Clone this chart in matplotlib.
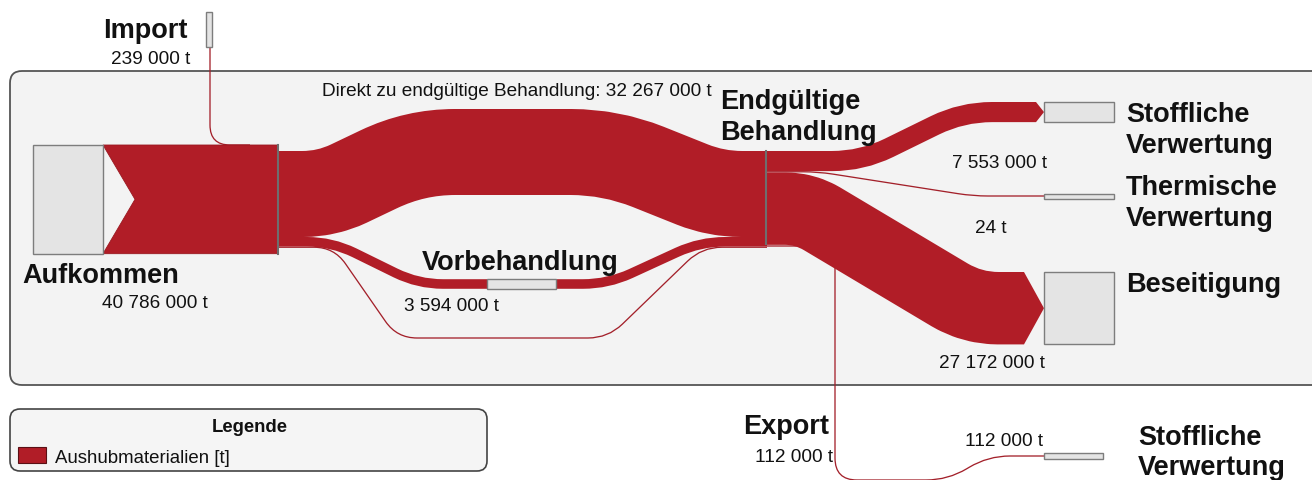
import numpy as np
import matplotlib
matplotlib.use("Agg")
import matplotlib.pyplot as plt
from matplotlib.path import Path
from matplotlib.patches import PathPatch, Polygon, Rectangle, FancyBboxPatch

plt.rcParams['font.family'] = ['Liberation Sans', 'DejaVu Sans']

# Mengen in Tonnen
aufkommen_t = 40786000
import_t = 239000
direkt_t = 32267000
vorbehandlung_t = 3594000
umweg_t = 300000          # schmaler Strang unter der Vorbehandlung (ohne Beschriftung)
ziel_namen = ["Stoffliche\nVerwertung", "Thermische\nVerwertung", "Beseitigung"]
ziel_t = [7553000, 24, 27172000]
export_t = 112000
export_ziel = "Stoffliche\nVerwertung"

W, H, DPI = 1312, 481, 100
K = 2.665e-6      # Pixel pro Tonne
MIN_W = 1.3       # Mindestbreite sehr kleiner Ströme
ROT = '#b11d27'
ROT_D = '#a3202a'
GRAU = '#e4e4e4'
RAND = '#7d7d7d'
TXT = '#111111'
FS_B = 19.5
FS_V = 13.7

fig = plt.figure(figsize=(W / DPI, H / DPI), dpi=DPI)
ax = fig.add_axes([0, 0, 1, 1])
ax.set_xlim(0, W)
ax.set_ylim(H, 0)
ax.axis('off')


def breite(v):
    return max(v * K, MIN_W)


def rund(pts, r):
    verts, codes = [pts[0]], [Path.MOVETO]
    for i in range(1, len(pts) - 1):
        p0, p1, p2 = (np.array(p, float) for p in pts[i - 1:i + 2])
        d1, d2 = p1 - p0, p2 - p1
        l1, l2 = np.hypot(*d1), np.hypot(*d2)
        rr = min(r, l1 / 2, l2 / 2)
        verts += [p1 - d1 / l1 * rr, p1, p1 + d2 / l2 * rr]
        codes += [Path.LINETO, Path.CURVE3, Path.CURVE3]
    verts.append(pts[-1])
    codes.append(Path.LINETO)
    return Path(verts, codes)


def strom(pts, value, r=30, color=ROT, z=2):
    w = breite(value)
    ax.add_patch(PathPatch(rund(pts, r), fill=False, edgecolor=color,
                           lw=w * 72 / DPI, capstyle='butt', joinstyle='round', zorder=z))
    return w


def spitze(x, c, w, tip):
    ax.add_patch(Polygon([(x, c - w / 2), (tip, c), (x, c + w / 2)], closed=True,
                         facecolor=ROT, edgecolor='none', zorder=2))


def knoten(x, y, w, h):
    ax.add_patch(Rectangle((x, y), w, h, facecolor=GRAU, edgecolor=RAND, lw=1.0, zorder=4))


def fmt(v):
    return f"{v:,} t".replace(",", " ")


def txt(x, y, s, bold=False, ha='left', size=None):
    ax.text(x, y, s, ha=ha, va='baseline', color=TXT,
            fontsize=size or (FS_B if bold else FS_V),
            fontweight='bold' if bold else 'normal', zorder=6)


# Rahmen
ax.add_patch(FancyBboxPatch((10, 72), 1340, 314, boxstyle="round,pad=0,rounding_size=12",
                            facecolor='#f3f3f3', edgecolor='#555555', lw=1.3, zorder=0))

# Import
knoten(206, 13, 6, 35)
strom([(210, 48), (210, 146), (250, 146)], import_t, r=40, color=ROT_D, z=1)

# Aufkommen
h_auf = aufkommen_t * K
knoten(33, 146, 70, h_auf)
ax.add_patch(Polygon([(103, 146), (278, 146), (278, 146 + h_auf), (103, 146 + h_auf),
                      (135, 146 + h_auf / 2)], closed=True, facecolor=ROT, edgecolor='#9a1820',
                     lw=0.6, zorder=3))

# Abflüsse Aufkommen -> Endgültige Behandlung
y0 = 152
w_dir = breite(direkt_t)
w_vb = breite(vorbehandlung_t)
w_um = breite(umweg_t)
c_dir = y0 + w_dir / 2
c_vb = y0 + w_dir + w_vb / 2
c_um = y0 + w_dir + w_vb + w_um / 2

strom([(279, c_dir), (327, c_dir), (415, 110 + w_dir / 2), (611, 110 + w_dir / 2),
       (716, c_dir), (767, c_dir)], direkt_t, r=40)
strom([(279, c_vb), (332, c_vb), (418, 285), (608, 285), (700, c_vb), (767, c_vb)],
      vorbehandlung_t, r=25)
strom([(279, c_um), (334, c_um), (397, 339), (608, 339), (702, c_um), (767, c_um)],
      umweg_t, r=20, color=ROT_D, z=1)
knoten(487, 285 - w_vb / 2, 69, w_vb)

# Abflüsse Endgültige Behandlung
y1 = 152
w_st = breite(ziel_t[0])
w_th = breite(ziel_t[1])
w_bs = breite(ziel_t[2])
c_st = y1 + w_st / 2
c_th = y1 + w_st + w_th / 2
c_bs = y1 + w_st + w_th + w_bs / 2

z_st = 103 + w_st / 2
strom([(766, c_st), (862, c_st), (962, z_st), (1036, z_st)], ziel_t[0], r=30)
spitze(1036, z_st, w_st, 1044)
knoten(1044, z_st - w_st / 2, 70, w_st)

strom([(766, c_th), (818, c_th), (973, 197), (1044, 197)], ziel_t[1], r=15, color=ROT_D)
knoten(1044, 197 - 2.5, 70, 5)

z_bs = 273 + w_bs / 2
strom([(766, c_bs), (805, c_bs), (972, z_bs), (1024, z_bs)], ziel_t[2], r=30)
spitze(1024, z_bs, w_bs, 1044)
knoten(1044, z_bs - w_bs / 2, 70, w_bs)

# Export
strom([(767, 247), (835, 247), (835, 481), (948, 481), (988, 457), (1044, 457)],
      export_t, r=22, color=ROT_D, z=1)
knoten(1044, 457 - 3, 59, 6)

# Knotengrenzen
ax.plot([278, 278], [146, 146 + h_auf], color='#6e6e6e', lw=1.5, zorder=5)
ax.plot([766, 766], [152, 245], color='#6e6e6e', lw=1.5, zorder=5)

# Beschriftungen
txt(188, 38, "Import", bold=True, ha='right')
txt(190, 64, fmt(import_t), ha='right')
txt(22, 283, "Aufkommen", bold=True)
txt(208, 308, fmt(aufkommen_t), ha='right')
txt(322, 96, "Direkt zu endgültige Behandlung: " + fmt(direkt_t))
txt(422, 270, "Vorbehandlung", bold=True)
txt(404, 311, fmt(vorbehandlung_t))
txt(720, 109, "Endgültige", bold=True)
txt(720, 140, "Behandlung", bold=True)

for name, base in zip(ziel_namen, [122, 195, 292]):
    for j, zeile in enumerate(name.split("\n")):
        txt(1126, base + 31 * j, zeile, bold=True)
txt(952, 168, fmt(ziel_t[0]))
txt(975, 233, fmt(ziel_t[1]))
txt(939, 368, fmt(ziel_t[2]))

txt(743, 434, "Export", bold=True)
txt(833, 462, fmt(export_t), ha='right')
txt(965, 446, fmt(export_t))
for j, zeile in enumerate(export_ziel.split("\n")):
    txt(1138, 445 + 30 * j, zeile, bold=True)

# Legende
ax.add_patch(FancyBboxPatch((10, 410), 477, 62, boxstyle="round,pad=0,rounding_size=10",
                            facecolor='#f5f5f5', edgecolor='#444444', lw=1.2, zorder=0))
txt(250, 432, "Legende", bold=True, ha='center', size=13.3)
ax.add_patch(Rectangle((18, 448), 28, 16, facecolor=ROT, edgecolor='#5a1015', lw=0.8, zorder=4))
txt(55, 463, "Aushubmaterialien [t]", size=13.4)

fig.savefig("out.png", dpi=DPI)
